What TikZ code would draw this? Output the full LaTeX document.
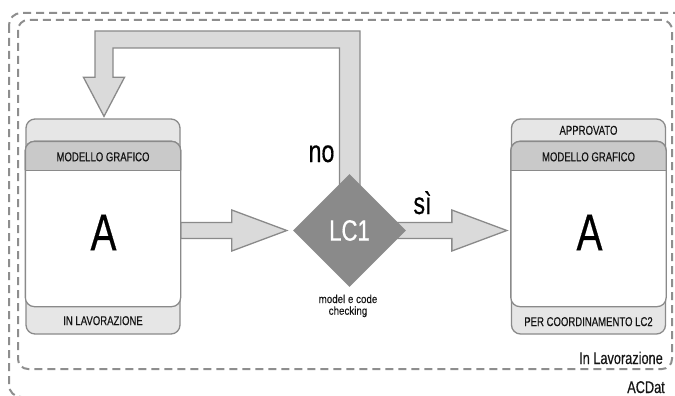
\documentclass[tikz,border=0pt]{standalone}
\usepackage{fontspec}
\setmainfont{Liberation Sans}[FakeStretch=0.75, FakeBold=0.4]
\newfontfamily\notefont{Liberation Sans}[FakeStretch=0.85, FakeBold=0.3]
\usetikzlibrary{shapes.geometric,calc}

\definecolor{framegray}{HTML}{8E8E8E}
\definecolor{edgegray}{HTML}{8A8A8A}
\definecolor{bandlight}{HTML}{E6E6E6}
\definecolor{banddark}{HTML}{C9C9C9}
\definecolor{arrowfill}{HTML}{DADADA}
\definecolor{checkgray}{HTML}{8A8A8A}
\definecolor{textdark}{HTML}{141414}

\pgfdeclarelayer{back}
\pgfsetlayers{back,main}

% inner layers of a model card: white body and the darker title band
\newcommand\cardlayers[1]{%
  \draw[edgeline, fill=white, rounded corners=9pt]
    ($(#1.north west)+(0,23)$) rectangle ($(#1.south east)+(0,-28)$);
  \path[fill=banddark, draw=edgegray, line width=1.3pt, rounded corners=9pt]
    ($(#1.north west)+(0,52)$) -- ($(#1.north west)+(0,23)$)
    -- ($(#1.north east)+(0,23)$) -- ($(#1.north east)+(0,52)$);
  \draw[edgeline] ($(#1.north west)+(0,52)$) -- ($(#1.north east)+(0,52)$);
}

% straight block arrow from #1 to the tip #2
\newcommand\blockarrow[2]{%
  \draw[barrow] ($(#1)+(0,-8)$) -- ($(#2)+(-55,-8)$) -- ($(#2)+(-55,-20.5)$)
    -- (#2) -- ($(#2)+(-55,20.5)$) -- ($(#2)+(-55,8)$) -- ($(#1)+(0,8)$) -- cycle;
}

\begin{document}
\begin{tikzpicture}[x=1pt,y=-1pt,
  frame/.style={draw=framegray, line width=2pt, dash pattern=on 8pt off 5pt},
  edgeline/.style={draw=edgegray, line width=1.3pt},
  card/.style={draw=edgegray, line width=1.3pt, fill=bandlight, rounded corners=9pt,
    minimum width=154pt, minimum height=215pt, inner sep=0pt},
  barrow/.style={draw=edgegray, fill=arrowfill, line width=1.3pt, line join=miter},
  check/.style={diamond, fill=checkgray, minimum width=113pt, minimum height=113pt,
    inner sep=0pt, text=white, font=\fontsize{29.5}{32}\selectfont},
  cardtext/.style={font=\fontsize{12.75}{15}\selectfont, text=textdark, inner sep=0pt},
  bigletter/.style={font=\fontsize{52}{60}\selectfont, text=black, inner sep=0pt},
  answer/.style={font=\fontsize{31}{34}\selectfont, text=black, inner sep=0pt, anchor=base},
  zonetext/.style={font=\fontsize{17}{20}\selectfont, text=textdark, inner sep=0pt, anchor=base east},
  note/.style={font=\notefont\fontsize{11.5}{11.7}\selectfont, text=textdark, inner sep=0pt, align=center}]

\useasboundingbox (0,0) rectangle (675,396);
\clip (0,0) rectangle (675,396);

% environment frames
\draw[frame, rounded corners=12pt] (9,13) rectangle (690,397);
\draw[frame, rounded corners=10pt] (18,20) rectangle (672,369);

% model cards
\node[card] (wip) at (103,226.5) {};
\cardlayers{wip}
\node[card] (appr) at (588.5,226.5) {};
\cardlayers{appr}

\node[cardtext] (wiptitle) at ($(wip.north)+(0,38.5)$) {MODELLO GRAFICO};
\node[bigletter] (wipletter) at ($(wip.center)+(0.5,6)$) {A};
\node[cardtext] (wipstate) at ($(wip.south)+(0,-14)$) {IN LAVORAZIONE};

\node[cardtext] (apprstate) at ($(appr.north)+(0,12)$) {APPROVATO};
\node[cardtext] (apprtitle) at ($(appr.north)+(0,38.5)$) {MODELLO GRAFICO};
\node[bigletter] (apprletter) at ($(appr.center)+(1,6)$) {A};
\node[cardtext] (apprnext) at ($(appr.south)+(0,-13)$) {PER COORDINAMENTO LC2};

% model and code checking
\node[check] (lc1) at (349.5,230.5) {LC1};
\node[note, anchor=north] (lc1note) at (348,294.5) {model e code\\checking};

% outcome labels
\node[answer] (nolabel) at (321.5,162) {no};
\node[answer] (silabel) at (422.5,214) {sì};

% zone labels
\node[zonetext] (zonewip) at (663,364) {In Lavorazione};
\node[zonetext] (zoneacdat) at (665,393) {ACDat};

% block arrows, kept behind the cards and the check
\begin{pgfonlayer}{back}
  \coordinate (a1s) at (wip.east |- lc1.center);
  \coordinate (a1t) at ($(lc1.west)+(-6,0)$);
  \blockarrow{a1s}{a1t}

  \coordinate (a2t) at ($(appr.west |- lc1.center)+(-4,0)$);
  \blockarrow{lc1.center}{a2t}

  % return path when the check fails
  \coordinate (ltop) at (0,31);
  \coordinate (lin) at (0,48);
  \coordinate (sr) at ($(lc1.center)+(10.5,-30)$);
  \coordinate (sl) at ($(lc1.center)+(-10,-30)$);
  \coordinate (ltip) at ($(wip.north)+(1,-2)$);
  \coordinate (lo) at ($(ltip)+(-9,-39)$);
  \coordinate (li) at ($(ltip)+(9,-39)$);
  \coordinate (hl) at ($(ltip)+(-20.5,-39)$);
  \coordinate (hr) at ($(ltip)+(20.5,-39)$);
  \draw[barrow] (sr) -- (sr |- ltop) -- (lo |- ltop) -- (lo) -- (hl) -- (ltip)
    -- (hr) -- (li) -- (li |- lin) -- (sl |- lin) -- (sl) -- cycle;
\end{pgfonlayer}
\end{tikzpicture}
\end{document}
